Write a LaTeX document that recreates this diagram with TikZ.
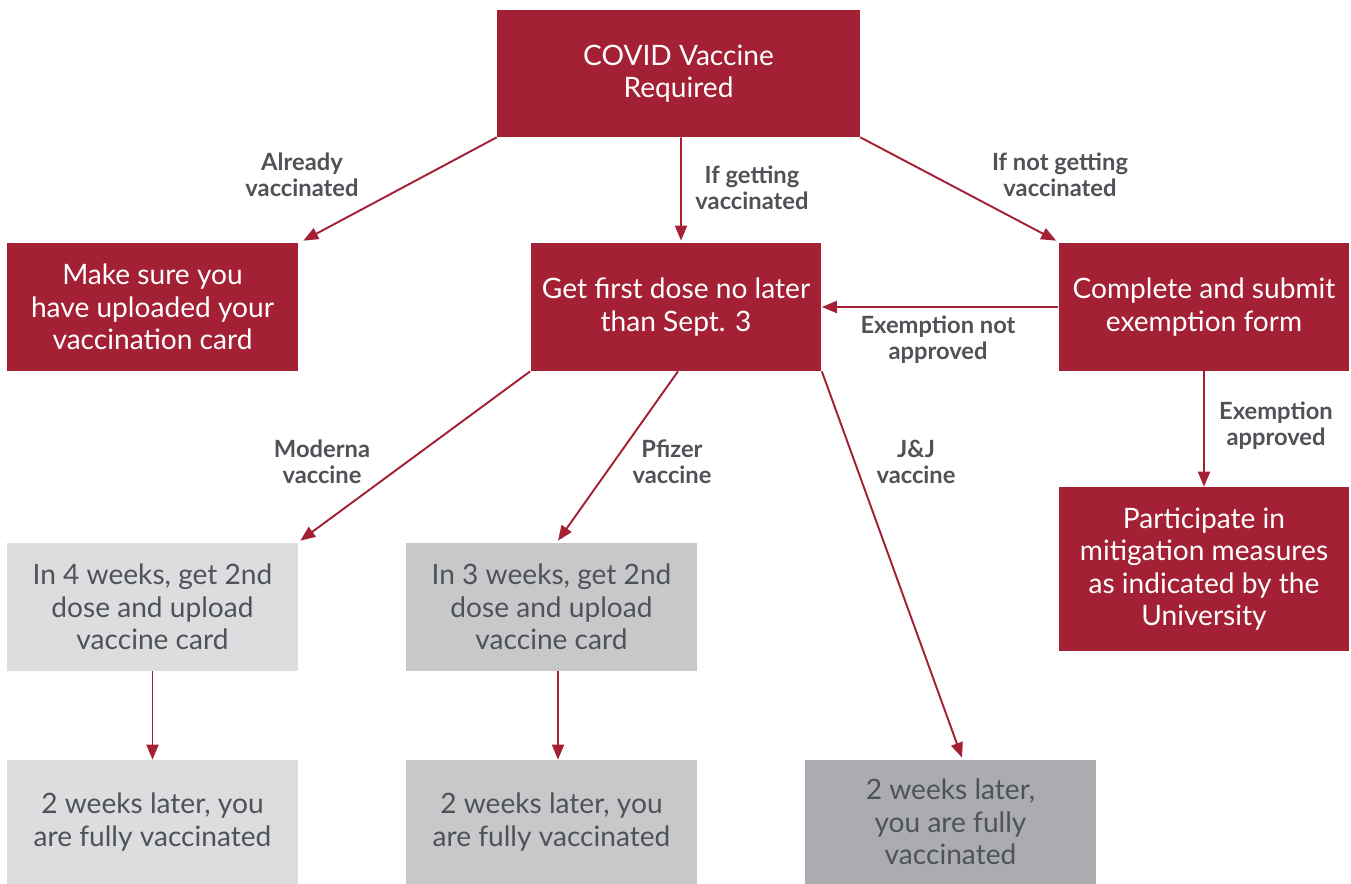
\documentclass[tikz,border=0pt]{standalone}
\usepackage{fontspec}
\setmainfont{Lato}
\usetikzlibrary{arrows.meta}
\definecolor{crimson}{HTML}{A32035}
\definecolor{greyA}{HTML}{DCDDDF}
\definecolor{greyB}{HTML}{C7C8CA}
\definecolor{greyC}{HTML}{AAACAF}
\definecolor{inkgrey}{HTML}{4F5256}
\tikzset{
  redbox/.style={fill=crimson, text=white, align=center, inner sep=0pt,
    minimum width=5.82cm, minimum height=2.56cm, font=\fontsize{16}{18.5}\selectfont},
  greybox/.style={redbox, text=inkgrey},
  lbl/.style={text=inkgrey, align=center, font=\fontsize{13.5}{14.8}\selectfont\bfseries},
  flow/.style={draw=crimson, line width=1.1pt, -{Triangle[length=0.3cm,width=0.24cm]}}
}
\newcommand{\pathlabel}[4]{
\node[lbl] (#1) at (#2,#3) {#4};
}
\begin{document}
\begin{tikzpicture}[x=0.02cm,y=-0.02cm]
\useasboundingbox (0,0) rectangle (1351,884);

% top row
\node[redbox, minimum width=7.26cm, minimum height=2.54cm] (req) at (678.5,73.5) {COVID Vaccine\\Required};

% second row
\node[redbox] (card) at (152.5,307) {Make sure you\\have uploaded your\\vaccination card};
\node[redbox] (first) at (676,307) {Get first dose no later\\than Sept. 3};
\node[redbox] (form) at (1204,307) {Complete and submit\\exemption form};
\node[redbox, minimum height=3.28cm] (mitig) at (1204,569) {Participate in\\mitigation measures\\as indicated by the\\University};

% second doses
\node[greybox, fill=greyA] (moderna) at (152.5,607) {In 4 weeks, get 2nd\\dose and upload\\vaccine card};
\node[greybox, fill=greyB] (pfizer) at (551.5,607) {In 3 weeks, get 2nd\\dose and upload\\vaccine card};

% fully vaccinated
\node[greybox, fill=greyA, minimum height=2.48cm] (done1) at (152.5,822) {2 weeks later, you\\are fully vaccinated};
\node[greybox, fill=greyB, minimum height=2.48cm] (done2) at (551.5,822) {2 weeks later, you\\are fully vaccinated};
\node[greybox, fill=greyC, minimum height=2.48cm] (done3) at (950.5,822) {2 weeks later,\\you are fully\\vaccinated};

\draw[flow] (req.south west) -- ([xshift=0.1cm,yshift=0.04cm]card.north east);
\draw[flow] ([xshift=0.05cm]req.south) -- ([xshift=0.1cm,yshift=0.04cm]first.north);
\draw[flow] (req.south east) -- ([xshift=-0.04cm,yshift=0.04cm]form.north west);
\draw[flow] (form.west) -- (first.east);
\draw[flow] (form.south) -- (mitig.north);
\draw[flow] (first.south west) -- ([xshift=0.04cm,yshift=0.04cm]moderna.north east);
\draw[flow] ([xshift=0.04cm]first.south) -- ([xshift=0.13cm,yshift=0.04cm]pfizer.north);
\draw[flow] (first.south east) -- ([xshift=0.23cm,yshift=0.04cm]done3.north);
\draw[flow] (moderna.south) -- (done1.north);
\draw[flow] ([xshift=0.13cm]pfizer.south) -- ([xshift=0.13cm]done2.north);

\pathlabel{l1}{302}{175}{Already\\vaccinated}
\pathlabel{l2}{752}{188}{If getting\\vaccinated}
\pathlabel{l3}{1060}{175}{If not getting\\vaccinated}
\pathlabel{l4}{938}{340}{Exemption not\\approved}
\pathlabel{l5}{1276}{426}{Exemption\\approved}
\pathlabel{l6}{322}{462}{Moderna\\vaccine}
\pathlabel{l7}{672}{462}{Pfizer\\vaccine}
\pathlabel{l8}{916}{462}{J\&J\\vaccine}
\end{tikzpicture}
\end{document}
